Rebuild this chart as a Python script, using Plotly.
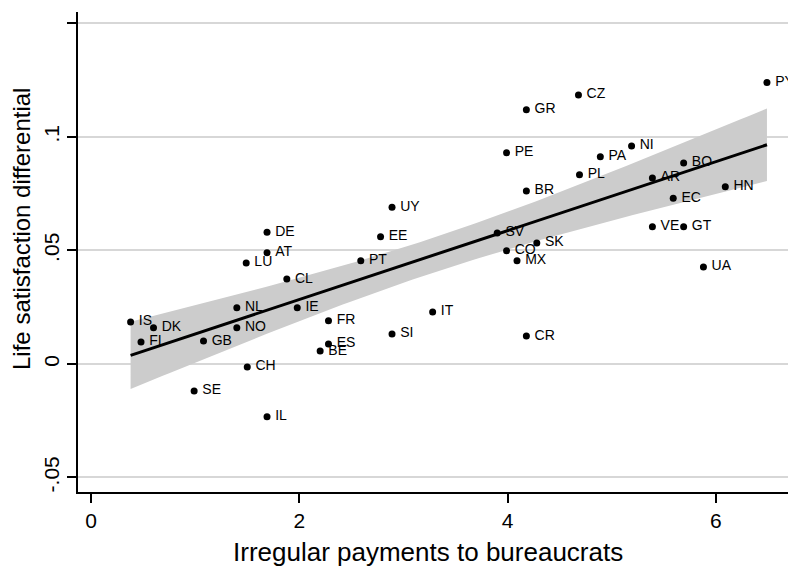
import numpy as np
import plotly.graph_objects as go

countries = ["IS","DK","FI","GB","NL","NO","CH","SE","IL","IE","BE","ES","FR",
             "DE","AT","LU","CL","PT","EE","UY","SI","IT","SV","CO","MX","SK","BR","CR",
             "GR","PE","CZ","PA","NI","PL","AR","BO","HN","EC","VE","GT","UA","PY"]
payments = [0.38,0.60,0.48,1.08,1.40,1.40,1.50,0.99,1.69,1.98,2.20,2.28,2.28,
            1.69,1.69,1.49,1.88,2.59,2.78,2.89,2.89,3.28,3.90,3.99,4.09,4.28,4.18,4.18,
            4.18,3.99,4.68,4.89,5.19,4.69,5.39,5.69,6.09,5.59,5.39,5.69,5.88,6.49]
satisfaction = [0.0185,0.0159,0.0097,0.0101,0.0247,0.0159,-0.0013,-0.0119,-0.0233,0.0247,0.0057,0.0088,0.0190,
                0.0580,0.0490,0.0445,0.0374,0.0454,0.0560,0.0690,0.0132,0.0229,0.0577,0.0498,0.0454,0.0533,0.0762,0.0123,
                0.1120,0.0930,0.1185,0.0912,0.0960,0.0833,0.0819,0.0885,0.0780,0.0730,0.0604,0.0604,0.0427,0.1240]
x_ticks = [0, 2, 4, 6]
x_ticktext = ["0", "2", "4", "6"]
y_ticks = [-0.05, 0, 0.05, 0.1, 0.15]
y_ticktext = ["-.05", "0", ".05", ".1", ".15"]

x = np.array(payments)
y = np.array(satisfaction)
n = len(x)
b, a = np.polyfit(x, y, 1)
xs = np.linspace(x.min(), x.max(), 100)
yhat = a + b * xs
resid = y - (a + b * x)
s = np.sqrt(np.sum(resid ** 2) / (n - 2))
sxx = np.sum((x - x.mean()) ** 2)
se = s * np.sqrt(1.0 / n + (xs - x.mean()) ** 2 / sxx)
tcrit = 2.02
lo = yhat - tcrit * se
hi = yhat + tcrit * se

FONT = "Liberation Sans"

fig = go.Figure()
fig.add_trace(go.Scatter(x=np.concatenate([xs, xs[::-1]]), y=np.concatenate([hi, lo[::-1]]),
                         fill="toself", fillcolor="rgb(204,204,204)", line=dict(width=0),
                         mode="lines", hoverinfo="skip", showlegend=False))
fig.add_trace(go.Scatter(x=xs, y=yhat, mode="lines", line=dict(color="black", width=3),
                         showlegend=False))
fig.add_trace(go.Scatter(x=payments, y=satisfaction, mode="markers+text",
                         text=["\u2009" + c for c in countries], textposition="middle right",
                         textfont=dict(family=FONT, size=14, color="black"),
                         marker=dict(color="black", size=7), showlegend=False,
                         cliponaxis=False))

fig.update_layout(
    width=788, height=560,
    margin=dict(l=70, r=3, t=4, b=76, autoexpand=False),
    paper_bgcolor="white", plot_bgcolor="white",
    font=dict(family=FONT, color="black"),
    annotations=[
        dict(text="Irregular payments to bureaucrats", xref="paper", yref="paper",
             x=0.2154, y=-0.125, xanchor="left", yanchor="middle", showarrow=False,
             borderpad=0, font=dict(size=26, family=FONT)),
        dict(text="Life satisfaction differential", xref="paper", yref="paper",
             x=-0.0783, y=0.548, xanchor="center", yanchor="middle", textangle=-90,
             borderpad=0, showarrow=False, font=dict(size=24, family=FONT)),
    ],
)
fig.update_xaxes(range=[-0.125, 6.74], tickvals=x_ticks, ticktext=x_ticktext,
                 automargin=False,
                 ticks="outside", ticklen=9, tickwidth=1.5, tickcolor="black",
                 showline=True, linecolor="black", linewidth=2, showgrid=False, zeroline=False,
                 tickfont=dict(size=21))
fig.update_yaxes(range=[-0.0564, 0.155], tickvals=y_ticks, ticktext=y_ticktext, tickangle=-90,
                 automargin=False,
                 ticks="outside", ticklen=9, tickwidth=1.5, tickcolor="black",
                 showline=True, linecolor="black", linewidth=2,
                 showgrid=True, gridcolor="rgb(215,215,215)", gridwidth=1.5, zeroline=False,
                 tickfont=dict(size=21))

fig.write_html("out.html")
